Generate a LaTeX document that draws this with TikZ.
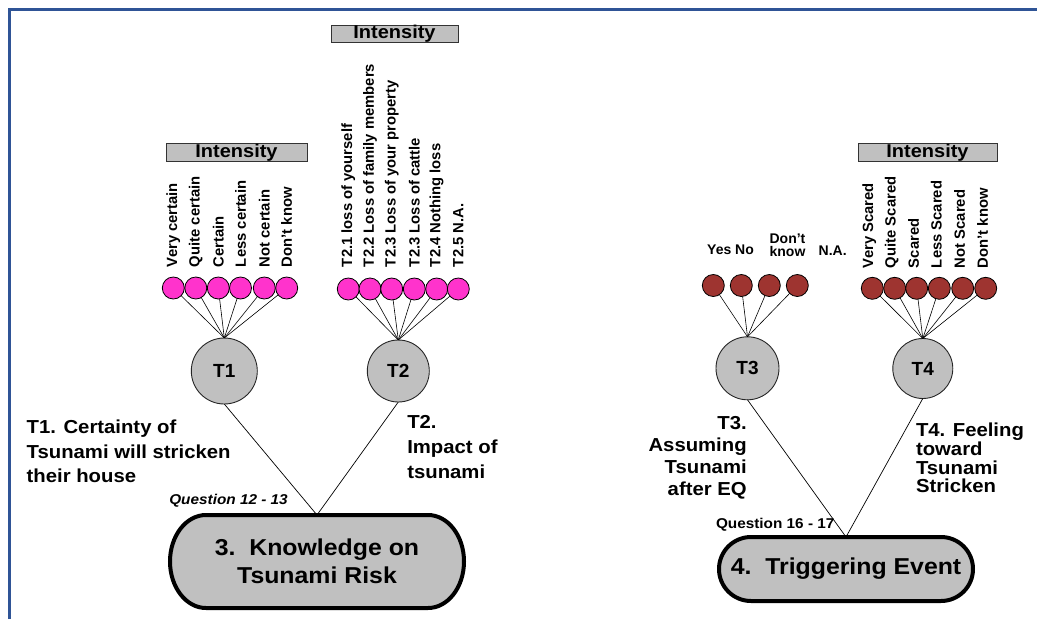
\documentclass[tikz,border=0pt]{standalone}
\usepackage{fontspec}
\setmainfont[FakeStretch=1.08]{Liberation Sans}
\newfontfamily\narrowsans{Liberation Sans}
\usetikzlibrary{backgrounds}
\definecolor{framecol}{RGB}{47,84,150}
\definecolor{boxgray}{RGB}{192,192,192}
\definecolor{optpink}{RGB}{255,51,204}
\definecolor{optbrown}{RGB}{158,52,48}
% bold text at a given size / baselineskip
\newcommand{\bsz}[2]{\fontsize{#1}{#2}\selectfont\bfseries}
\newcommand{\nsz}[2]{\narrowsans\fontsize{#1}{#2}\selectfont\bfseries}
\begin{document}
\begin{tikzpicture}[x=1pt,y=-1pt,
  every node/.style={inner sep=0pt, outer sep=0pt},
  intbox/.style={draw=black!80, line width=1pt, fill=boxgray, minimum height=17.5pt, font=\bsz{18.5}{20}},
  opt/.style={circle, draw=black, line width=0.8pt, minimum size=22pt},
  pinkopt/.style={opt, fill=optpink},
  brownopt/.style={opt, fill=optbrown},
  optlbl/.style={rotate=90, anchor=west, font=\nsz{14.8}{16}},
  ynlbl/.style={anchor=base, font=\nsz{14}{13.4}, align=center},
  factor/.style={circle, draw=black!85, line width=0.9pt, fill=boxgray, font=\nsz{19}{20}},
  fan/.style={draw=black, line width=0.6pt},
  link/.style={draw=black, line width=0.7pt},
  construct/.style={draw=black, line width=4pt, fill=boxgray},
  desc/.style={font=\bsz{18.8}{#1}},
  qlbl/.style={anchor=base west, font=\bsz{14.2}{15}}
]
\useasboundingbox (0,0) rectangle (1037,619);

% page frame
\draw[framecol, line width=3pt] (9.5,619) -- (9.5,9.5) -- (1037,9.5);

% ---------- T1: certainty ----------
\node[intbox, minimum width=141pt] (int1) at (236.5,152.5) {Intensity};
\foreach \i/\x/\t in {1/173.3/Very certain, 2/195.8/Quite certain, 3/218.3/Certain,
                      4/240.5/Less certain, 5/264.3/Not certain, 6/286.7/Don’t know} {
  \node[pinkopt] (a\i) at (\x,288) {};
  \node[optlbl] (al\i) at (\x,267) {\t};
}
\node[factor, minimum size=66pt] (T1) at (224.3,371) {T1};
\foreach \i in {1,...,6} \draw[fan] (a\i) -- (T1.north);

% ---------- T2: impact ----------
\node[intbox, minimum width=127pt] (int2) at (394.5,34) {Intensity};
\foreach \i/\x/\t in {1/348.3/T2.1 loss of yourself, 2/370/T2.2 Loss of family members,
                      3/391.7/T2.3 Loss of your property, 4/414.3/T2.3 Loss of cattle,
                      5/436.7/T2.4 Nothing loss, 6/458.3/T2.5 N.A.} {
  \node[pinkopt] (b\i) at (\x,289) {};
  \node[optlbl] (bl\i) at (\x,267) {\t};
}
\node[factor, minimum size=62pt] (T2) at (398.3,371) {T2};
\foreach \i in {1,...,6} \draw[fan] (b\i) -- (T2.north);

% ---------- T3: assuming tsunami ----------
\foreach \i/\x in {1/713.3, 2/741.3, 3/769.3, 4/797.3} {
  \node[brownopt] (c\i) at (\x,285.5) {};
}
\node[ynlbl] (cl1) at (719.3,254.3) {Yes};
\node[ynlbl] (cl2) at (744.5,254.3) {No};
\node[ynlbl] (cl3) at (787.5,256.7) {Don’t\\know};
\node[ynlbl] (cl4) at (832.7,255) {N.A.};
\node[factor, minimum size=63pt] (T3) at (747.5,368.3) {T3};
\foreach \i in {1,...,4} \draw[fan] (c\i) -- (T3.north);

% ---------- T4: feeling ----------
\node[intbox, minimum width=139pt] (int4) at (927.5,152.5) {Intensity};
\foreach \i/\x/\t in {1/872.3/Very Scared, 2/894.7/Quite Scared, 3/916.7/Scared,
                      4/939.3/Less Scared, 5/962.7/Not Scared, 6/985.7/Don’t know} {
  \node[brownopt] (d\i) at (\x,288.3) {};
  \node[optlbl] (dl\i) at (\x-3,268) {\t};
}
\node[factor, minimum size=60pt] (T4) at (922.8,368.5) {T4};
\foreach \i in {1,...,6} \draw[fan] (d\i) -- (T4.north);

% ---------- constructs ----------
\node[minimum width=294pt, minimum height=93pt, align=center, font=\bsz{23}{28}]
  (K3) at (317,561.5) {3.\ \ Knowledge on\\Tsunami Risk};
\node[minimum width=254pt, minimum height=64pt, font=\bsz{23}{28}]
  (K4) at (846,569) {4.\ \ Triggering Event};
\begin{scope}[on background layer]
  \path[construct] ([xshift=36pt]K3.north west) -- ([xshift=-36pt]K3.north east)
    arc[start angle=90, end angle=-90, x radius=36pt, y radius=46.5pt]
    -- ([xshift=36pt]K3.south west)
    arc[start angle=270, end angle=90, x radius=36pt, y radius=46.5pt] -- cycle;
  \path[construct] ([xshift=32pt]K4.north west) -- ([xshift=-32pt]K4.north east)
    arc[start angle=90, end angle=-90, x radius=32pt, y radius=32pt]
    -- ([xshift=32pt]K4.south west)
    arc[start angle=270, end angle=90, x radius=32pt, y radius=32pt] -- cycle;
\end{scope}

\draw[link] (T1.south) -- (K3.north);
\draw[link] (T2.south) -- (K3.north);
\draw[link] (T3.south) -- (K4.north);
\draw[link] (T4.south) -- (K4.north);

% ---------- descriptions (anchored at the baseline of their last line) ----------
\node[desc=24.7, anchor=base west, align=left] (t1d) at (26.7,482.7)
  {T1. Certainty of\\Tsunami will stricken\\their house};
\node[desc=25, anchor=base west, align=left] (t2d) at (407.3,478.3)
  {T2.\\Impact of\\tsunami};
\node[desc=21.7, anchor=base east, align=right] (t3d) at (746.7,495)
  {T3.\\Assuming\\Tsunami\\after EQ};
\node[desc=18.7, anchor=base west, align=left] (t4d) at (916,492.7)
  {T4. Feeling\\toward\\Tsunami\\Stricken};

\node[qlbl, font=\bsz{14.2}{15}\itshape] (q1) at (169.3,504) {Question 12 - 13};
\node[qlbl] (q2) at (716,528.3) {Question 16 - 17};
\end{tikzpicture}
\end{document}
